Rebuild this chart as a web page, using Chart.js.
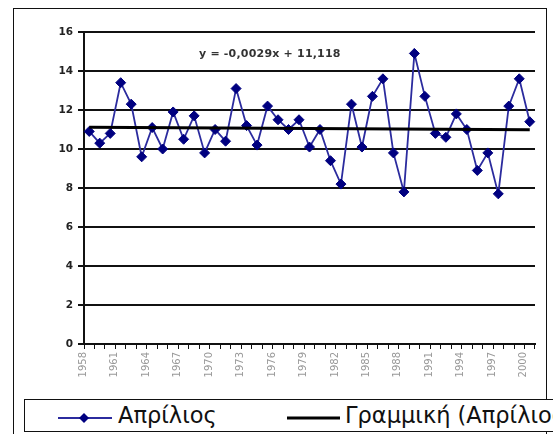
<!DOCTYPE html>
<html>
<head>
<meta charset="utf-8">
<script src="https://cdn.jsdelivr.net/npm/chart.js@4/dist/chart.umd.min.js"></script>
<style>
  html, body { margin: 0; padding: 0; width: 553px; height: 434px; overflow: hidden; background: #fff; }
  #frame { position: absolute; left: 13px; top: 8px; width: 534px; height: 440px; border: 1.5px solid #111; box-sizing: border-box; }
  canvas { position: absolute; left: 0; top: 0; }
  #eq { position: absolute; left: 199px; top: 47px; font: bold 11px "DejaVu Sans", sans-serif; color: #333; white-space: nowrap; line-height: 14px; letter-spacing: 0.2px; }
  #legend { position: absolute; left: 24px; top: 399px; width: 600px; height: 33px; border: 1.5px solid #111; background: #fff; box-sizing: border-box; }
  .lt { position: absolute; top: 401px; font: 22.5px "DejaVu Sans", sans-serif; color: #111; white-space: nowrap; line-height: 28px; }
  svg.ls { position: absolute; }
</style>
</head>
<body>
<div id="frame"></div>
<canvas id="c" width="553" height="434"></canvas>
<div id="eq">y = -0,0029x + 11,118</div>
<div id="legend"></div>
<svg class="ls" style="left:56px;top:410px" width="60" height="16">
  <line x1="2" y1="8" x2="56" y2="8" stroke="#2b2b9e" stroke-width="2"/>
  <polygon points="28,3 33,8 28,13 23,8" fill="#000080"/>
</svg>
<div class="lt" style="left:118px">Απρίλιος</div>
<svg class="ls" style="left:285px;top:410px" width="60" height="16">
  <line x1="2" y1="8" x2="55" y2="8" stroke="#000" stroke-width="3"/>
</svg>
<div class="lt" style="left:345px">Γραμμική (Απρίλιος)</div>
<script>
const years = ['1958','1959','1960','1961','1962','1963','1964','1965','1966','1967',
  '1968','1969','1970','1971','1972','1973','1974','1975','1976','1977',
  '1978','1979','1980','1981','1982','1983','1984','1985','1986','1987',
  '1988','1989','1990','1991','1992','1993','1994','1995','1996','1997',
  '1998','1999','2000'];
const april = [10.9,10.3,10.8,13.4,12.3,9.6,11.1,10.0,11.9,10.5,
  11.7,9.8,11.0,10.4,13.1,11.2,10.2,12.2,11.5,11.0,
  11.5,10.1,11.0,9.4,8.2,12.3,10.1,12.7,13.6,9.8,
  7.8,14.9,12.7,10.8,10.6,11.8,11.0,8.9,9.8,7.7,
  12.2,13.6,11.4];
const trendYears = ['1958','2000'];
const trendValues = [11.11, 10.99];
const yTicks = [0,2,4,6,8,10,12,14,16];

new Chart(document.getElementById('c'), {
  type: 'line',
  data: {
    labels: years,
    datasets: [
      {
        label: 'Γραμμική (Απρίλιος)',
        data: trendYears.map((y, i) => ({x: y, y: trendValues[i]})),
        borderColor: '#000',
        borderWidth: 3,
        pointRadius: 0,
        spanGaps: true,
        order: 0
      },
      {
        label: 'Απρίλιος',
        data: april,
        borderColor: '#2b2b9e',
        borderWidth: 1.8,
        pointStyle: 'rectRot',
        pointRadius: 5,
        pointBackgroundColor: '#000080',
        pointBorderColor: '#000080',
        pointBorderWidth: 1,
        tension: 0,
        order: 1
      }
    ]
  },
  options: {
    responsive: false,
    animation: false,
    devicePixelRatio: 1,
    layout: { padding: { top: 32, right: 18, left: 0, bottom: 0 } },
    plugins: { legend: { display: false }, tooltip: { enabled: false } },
    scales: {
      x: {
        type: 'category',
        offset: true,
        grid: { display: true, drawOnChartArea: false, drawTicks: true, tickLength: 5, color: '#111', offset: true, lineWidth: 1 },
        border: { display: true, color: '#111', width: 2 },
        ticks: {
          autoSkip: false, maxRotation: 90, minRotation: 90, padding: 3, labelOffset: -6,
          color: '#999',
          font: { family: 'DejaVu Sans', size: 10 },
          callback: (v, i) => ((parseInt(years[i]) - 1958) % 3 === 0 ? years[i] : '')
        },
        afterFit: s => { s.height = 90; }
      },
      y: {
        min: 0, max: 16,
        afterBuildTicks: s => { s.ticks = yTicks.map(v => ({value: v})); },
        grid: { color: '#111', lineWidth: 2, tickLength: 6 },
        border: { display: true, color: '#111', width: 2 },
        ticks: { padding: 5, color: '#222', font: { family: 'DejaVu Sans', size: 10.5, weight: 'bold' } },
        afterFit: s => { s.width = 84; }
      }
    }
  }
});
</script>
</body>
</html>
